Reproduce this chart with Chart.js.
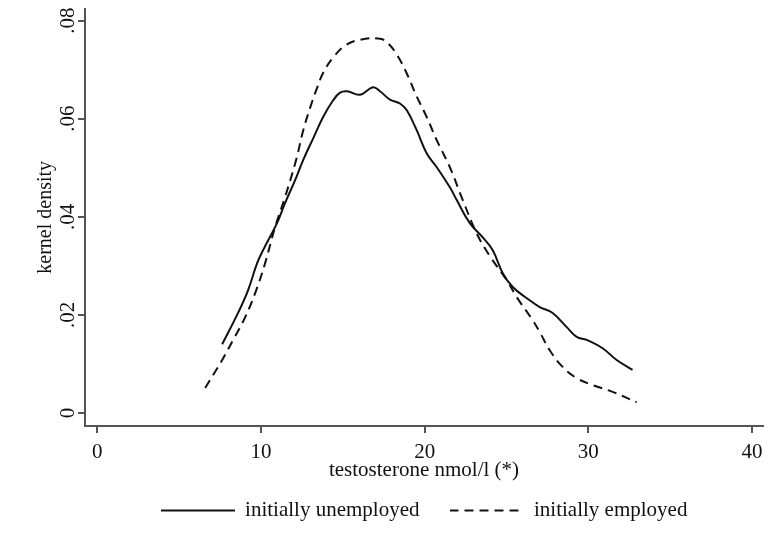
<!DOCTYPE html>
<html>
<head>
<meta charset="utf-8">
<script src="https://cdn.jsdelivr.net/npm/chart.js@4.4.1/dist/chart.umd.min.js"></script>
<style>
  body { margin: 0; background: #fff; }
</style>
</head>
<body>
<canvas id="densityChart" width="771" height="552"></canvas>
<script>
const xTicks = [0, 10, 20, 30, 40];
const yTicks = [0, 0.02, 0.04, 0.06, 0.08];

// initially unemployed (solid)
const unempX = [7.63, 8.60, 9.21, 9.76, 10.13, 10.98, 11.47, 12.08, 12.57, 13.19, 13.79, 14.40, 14.83, 15.25, 16.05, 16.84, 17.27, 17.88, 18.49, 18.91, 19.52, 20.13, 20.74, 21.54, 21.96, 22.76, 23.55, 24.16, 24.77, 25.38, 26.24, 27.03, 27.82, 28.68, 29.29, 29.90, 30.87, 31.73, 32.70];
const unempY = [0.0140, 0.0204, 0.0250, 0.0305, 0.0332, 0.0387, 0.0428, 0.0474, 0.0515, 0.0560, 0.0603, 0.0637, 0.0653, 0.0656, 0.0649, 0.0664, 0.0656, 0.0639, 0.0631, 0.0617, 0.0576, 0.0529, 0.0501, 0.0460, 0.0434, 0.0387, 0.0358, 0.0332, 0.0285, 0.0257, 0.0234, 0.0216, 0.0204, 0.0175, 0.0155, 0.0149, 0.0132, 0.0108, 0.0088];

// initially employed (dashed)
const empX = [6.59, 7.63, 8.30, 9.03, 9.64, 10.25, 10.86, 11.47, 12.14, 12.58, 13.01, 13.44, 13.81, 14.42, 15.15, 16.07, 17.29, 17.78, 18.33, 18.91, 19.52, 20.13, 20.74, 21.54, 22.33, 23.18, 23.98, 25.01, 25.63, 26.60, 27.03, 27.64, 28.43, 29.29, 30.26, 31.48, 32.95];
const empY = [0.0051, 0.0108, 0.0149, 0.0195, 0.0244, 0.0305, 0.0379, 0.0440, 0.0515, 0.0576, 0.0623, 0.0664, 0.0694, 0.0725, 0.0749, 0.0761, 0.0763, 0.0753, 0.0729, 0.0692, 0.0645, 0.0603, 0.0556, 0.0501, 0.0434, 0.0366, 0.0320, 0.0271, 0.0236, 0.0189, 0.0165, 0.0128, 0.0094, 0.0071, 0.0057, 0.0043, 0.0022];

const toPoints = (xs, ys) => xs.map((x, i) => ({ x: x, y: ys[i] }));

const serif = 'Liberation Serif';
const axisGray = '#555555';
const textColor = '#111111';
const lineColor = '#111111';

// legend keys: a short solid and a short dashed stroke
function legendKey(dash) {
    const c = document.createElement('canvas');
    c.width = 74;
    c.height = 4;
    const g = c.getContext('2d');
    g.strokeStyle = lineColor;
    g.lineWidth = 2;
    g.setLineDash(dash);
    g.beginPath();
    g.moveTo(0, 2);
    g.lineTo(74, 2);
    g.stroke();
    return c;
}
const legendKeys = [legendKey([]), legendKey([9, 6])];

new Chart(document.getElementById('densityChart'), {
    type: 'line',
    data: {
        datasets: [{
            label: 'initially unemployed',
            data: toPoints(unempX, unempY),
            borderColor: lineColor,
            borderWidth: 2,
            pointRadius: 0,
            tension: 0.4,
            fill: false
        }, {
            label: 'initially employed',
            data: toPoints(empX, empY),
            borderColor: lineColor,
            borderWidth: 2,
            borderDash: [9, 6],
            pointRadius: 0,
            tension: 0.4,
            fill: false
        }]
    },
    options: {
        responsive: false,
        animation: false,
        layout: {
            padding: { left: 0, top: 8, right: 8, bottom: 21 }
        },
        plugins: {
            tooltip: { enabled: false },
            legend: {
                position: 'bottom',
                fullSize: false,
                labels: {
                    usePointStyle: true,
                    pointStyleWidth: 74,
                    padding: 30,
                    color: textColor,
                    font: { family: serif, size: 21 },
                    generateLabels: chart => {
                        const items = Chart.defaults.plugins.legend.labels.generateLabels(chart);
                        items.forEach((it, i) => { it.pointStyle = legendKeys[i]; });
                        return items;
                    }
                }
            }
        },
        scales: {
            x: {
                type: 'linear',
                min: -0.75,
                max: 40.67,
                afterBuildTicks: scale => { scale.ticks = xTicks.map(v => ({ value: v })); },
                afterFit: scale => { scale.height = 44; },
                grid: { drawOnChartArea: false, color: axisGray, lineWidth: 2, tickLength: 7 },
                border: { color: axisGray, width: 2 },
                ticks: {
                    color: textColor,
                    padding: 7,
                    maxRotation: 0,
                    font: { family: serif, size: 21 }
                },
                title: {
                    display: true,
                    text: 'testosterone nmol/l (*)',
                    color: textColor,
                    padding: { top: 0, bottom: -13 },
                    font: { family: serif, size: 21 }
                }
            },
            y: {
                min: -0.00265,
                max: 0.08244,
                afterBuildTicks: scale => { scale.ticks = yTicks.map(v => ({ value: v })); },
                afterFit: scale => { scale.width = 85; },
                grid: { drawOnChartArea: false, color: axisGray, lineWidth: 2, tickLength: 7 },
                border: { color: axisGray, width: 2 },
                ticks: {
                    color: textColor,
                    padding: -4,
                    minRotation: 90,
                    maxRotation: 90,
                    crossAlign: 'center',
                    font: { family: serif, size: 21 },
                    callback: v => v === 0 ? '0' : v.toFixed(2).replace(/^0/, '')
                },
                title: {
                    display: true,
                    text: 'kernel density',
                    color: textColor,
                    padding: { top: 34, bottom: 0 },
                    font: { family: serif, size: 20 }
                }
            }
        }
    }
});
</script>
</body>
</html>
